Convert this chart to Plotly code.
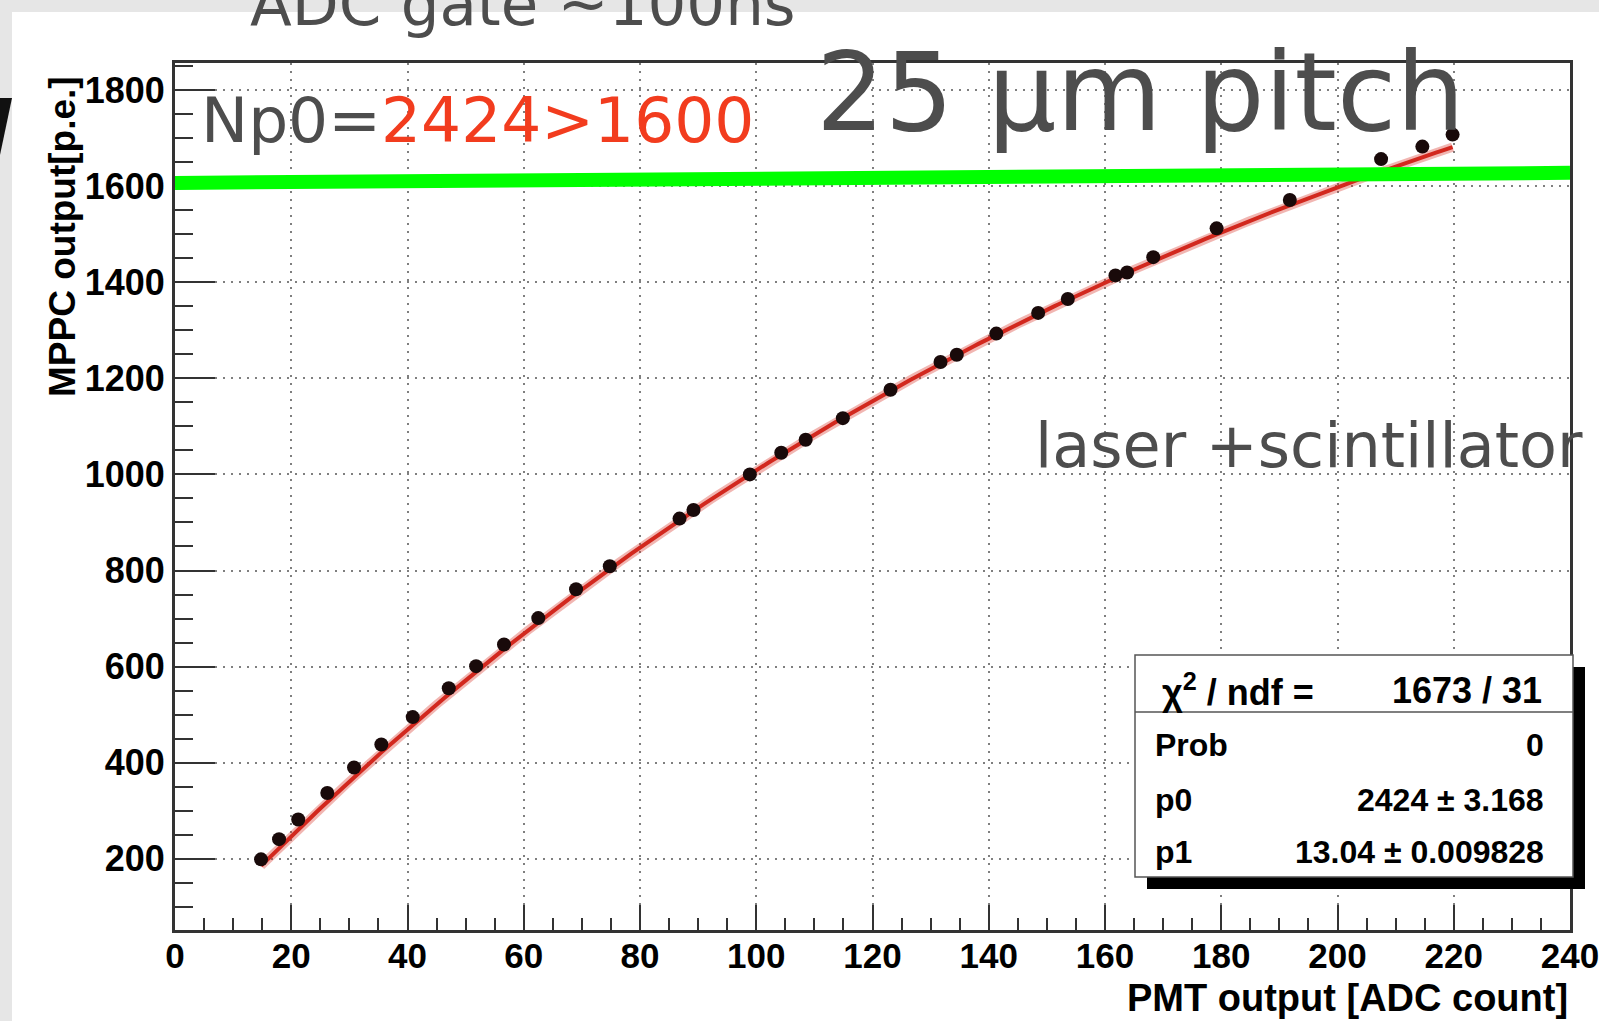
import numpy as np
import plotly.graph_objects as go

# MPPC response vs. PMT reference (laser + scintillator, 25 um pitch)
pmt_adc = [14.8, 17.9, 21.2, 26.2, 30.8, 35.5, 40.9, 47.1, 51.8, 56.6,
           62.5, 69.0, 74.8, 86.8, 89.2, 98.9, 104.3, 108.5, 114.9, 123.1,
           131.7, 134.5, 141.3, 148.5, 153.6, 161.8, 163.8, 168.3, 179.2, 191.8,
           207.5, 214.6, 219.8]
mppc_pe = [199, 241, 282, 337, 390, 438, 495, 555, 601, 646,
           701, 761, 809, 908, 926, 1000, 1045, 1072, 1117, 1176,
           1234, 1249, 1293, 1336, 1365, 1414, 1420, 1452, 1512, 1571,
           1656, 1682, 1707]

# saturation fit  N = p0 * (1 - exp(-p1 * x / p0))
FIT_P0 = 2424.0
FIT_P1 = 13.04
FIT_P0_ERR = "3.168"
FIT_P1_ERR = "0.009828"
CHI2_NDF = "1673 / 31"
FIT_PROB = "0"

x_ticks = list(range(0, 241, 20))
y_ticks = list(range(200, 1801, 200))

# horizontal reference line (1600 p.e.) as drawn across the frame
ref_line = (1606.5, 1627.5)

W, H = 1599, 1021
L, R, T, B = 175, 1570, 63, 930


def px(x):
    return (x - L) / (R - L)


def py(y):
    return (B - y) / (B - T)


fit_x = np.linspace(pmt_adc[0], pmt_adc[-1], 300)
fit_y = FIT_P0 * (1.0 - np.exp(-FIT_P1 * fit_x / FIT_P0))

fig = go.Figure()
fig.add_trace(go.Scatter(x=fit_x, y=fit_y, mode="lines",
                         line=dict(color="rgba(215,45,35,0.35)", width=9),
                         hoverinfo="skip", showlegend=False))
fig.add_trace(go.Scatter(x=fit_x, y=fit_y, mode="lines",
                         line=dict(color="rgb(210,40,30)", width=4),
                         hoverinfo="skip", showlegend=False))
fig.add_trace(go.Scatter(x=pmt_adc, y=mppc_pe, mode="markers",
                         marker=dict(color="rgb(25,10,10)", size=14),
                         showlegend=False))

tick_font = dict(family="Liberation Sans, Arial, sans-serif", size=36,
                 color="black", weight="bold")
grid = dict(showgrid=True, gridcolor="rgba(0,0,0,0.5)", gridwidth=2,
            griddash="2px,6px", zeroline=False, showline=True, linecolor="#333",
            linewidth=3, mirror=True, ticks="inside", tickcolor="#333",
            tickwidth=2, ticklabeloverflow="allow", automargin=False)

fig.update_xaxes(range=[0, 240], tickvals=x_ticks, ticktext=[str(v) for v in x_ticks],
                 ticklen=25, ticklabelstandoff=-7,
                 tickfont=dict(tick_font, size=35),
                 minor=dict(dtick=5, tick0=0, ticks="inside", ticklen=12,
                            tickcolor="#333", tickwidth=2, showgrid=False),
                 **grid)
fig.update_yaxes(range=[52, 1856], tickvals=y_ticks, ticktext=[str(v) for v in y_ticks],
                 ticklen=40, tickfont=tick_font,
                 minor=dict(dtick=50, tick0=0, ticks="inside", ticklen=18,
                            tickcolor="#333", tickwidth=2, showgrid=False),
                 **grid)

shapes = [
    # slide surround
    dict(type="rect", xref="paper", yref="paper", x0=px(0), x1=px(W), y0=py(0), y1=py(12),
         fillcolor="#e6e6e6", line_width=0, layer="below"),
    dict(type="rect", xref="paper", yref="paper", x0=px(0), x1=px(12), y0=py(0), y1=py(H),
         fillcolor="#e6e6e6", line_width=0, layer="below"),
    dict(type="path", xref="paper", yref="paper",
         path=f"M {px(0)},{py(98)} L {px(12)},{py(98)} L {px(0)},{py(155)} Z",
         fillcolor="#111", line_width=0),
    # 1600 p.e. marker line
    dict(type="line", xref="x", yref="y", x0=0, x1=240, y0=ref_line[0], y1=ref_line[1],
         line=dict(color="#00ff00", width=14)),
    # fit statistics box with drop shadow
    dict(type="rect", xref="paper", yref="paper", x0=px(1147), x1=px(1585), y0=py(667), y1=py(889),
         fillcolor="black", line_width=0),
    dict(type="rect", xref="paper", yref="paper", x0=px(1135), x1=px(1573), y0=py(655), y1=py(877),
         fillcolor="white", line=dict(color="#555", width=1.5)),
    dict(type="line", xref="paper", yref="paper", x0=px(1135), x1=px(1573), y0=py(712), y1=py(712),
         line=dict(color="#555", width=1.5)),
]

slide_font = "DejaVu Sans, Verdana, sans-serif"
gray = "#4d4d4d"
red = "rgb(242,60,30)"
root_font = "Liberation Sans, Arial, sans-serif"


def note(text, x, y, size, xanchor="left", family=slide_font, color=gray, weight="normal", angle=0):
    return dict(text=text, xref="paper", yref="paper", x=px(x), y=py(y),
                xanchor=xanchor, yanchor="middle", showarrow=False, textangle=angle,
                font=dict(family=family, size=size, color=color, weight=weight))


annotations = [
    note("ADC gate ~100ns", 248, 4, 61),
    note("25 µm pitch", 814, 93, 108),
    note(f"Np0=<span style='color:{red}'>{int(FIT_P0)}&gt;1600</span>", 199, 121, 63),
    note("laser +scintillator", 1033, 445, 62),
    note("PMT output [ADC count]", 1570, 998, 38, xanchor="right", family=root_font,
         color="black", weight="bold"),
    note("MPPC output[p.e.]", 63, 237, 37, xanchor="center", family=root_font,
         color="black", weight="bold", angle=-90),
    note("χ<sup>2</sup> / ndf =", 1160, 690, 36, family=root_font, color="black", weight="bold"),
    note(CHI2_NDF, 1544, 690, 36, xanchor="right", family=root_font, color="black", weight="bold"),
    note("Prob", 1153, 745, 32, family=root_font, color="black", weight="bold"),
    note(FIT_PROB, 1546, 745, 32, xanchor="right", family=root_font, color="black", weight="bold"),
    note("p0", 1153, 800, 32, family=root_font, color="black", weight="bold"),
    note(f"{int(FIT_P0)} ± {FIT_P0_ERR}", 1546, 800, 32, xanchor="right", family=root_font,
         color="black", weight="bold"),
    note("p1", 1153, 852, 32, family=root_font, color="black", weight="bold"),
    note(f"{FIT_P1:.2f} ± {FIT_P1_ERR}", 1546, 852, 32, xanchor="right", family=root_font,
         color="black", weight="bold"),
]

fig.update_layout(
    width=W, height=H,
    margin=dict(l=L, r=W - R, t=T, b=H - B, pad=0, autoexpand=False),
    paper_bgcolor="white", plot_bgcolor="white",
    shapes=shapes, annotations=annotations,
    showlegend=False,
)

fig.write_html("out.html")
